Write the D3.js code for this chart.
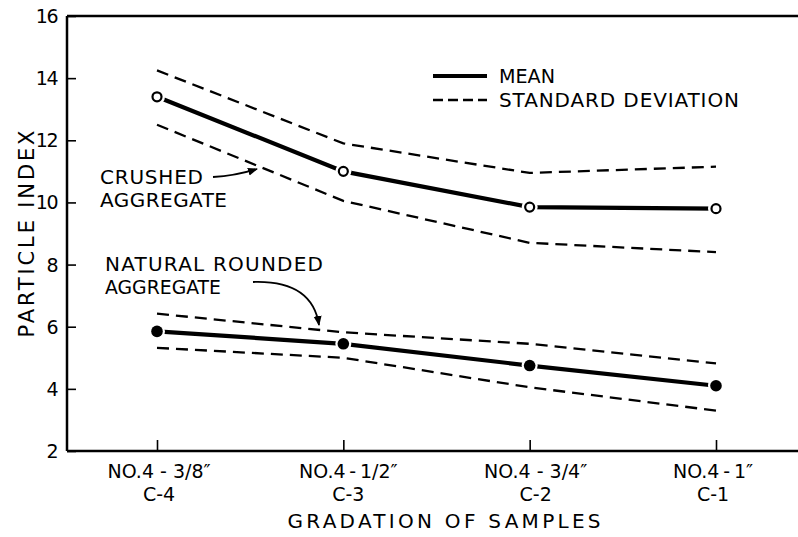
<!DOCTYPE html>
<html>
<head>
<meta charset="utf-8">
<script src="https://cdn.jsdelivr.net/npm/d3@7"></script>
<style>
  html, body { margin: 0; padding: 0; background: #fff; }
  svg { display: block; }
  text { font-family: "DejaVu Sans", "Liberation Sans", sans-serif; fill: #000; }
</style>
</head>
<body>
<svg id="chart" width="798" height="537"></svg>
<script>
// Sample gradations (x categories)
const gradations = ["NO.4 - 3/8\u2033", "NO.4\u2009-\u20091/2\u2033", "NO.4 - 3/4\u2033", "NO.4\u2009-\u20091\u2033"];
const codes = ["C-4", "C-3", "C-2", "C-1"];
const yTicks = [2, 4, 6, 8, 10, 12, 14, 16];

// Crushed aggregate: mean and ± one standard deviation
const crushedMean  = [13.4, 11.0, 9.85, 9.8];
const crushedUpper = [14.25, 11.9, 10.95, 11.15];
const crushedLower = [12.5, 10.05, 8.7, 8.4];

// Natural rounded aggregate: mean and ± one standard deviation
const naturalMean  = [5.85, 5.45, 4.75, 4.1];
const naturalUpper = [6.42, 5.82, 5.45, 4.82];
const naturalLower = [5.32, 5.0, 4.05, 3.3];

const svg = d3.select("#chart");
const plotLeft = 67, plotRight = 798, plotTop = 16, plotBottom = 451;

const x = d3.scalePoint().domain(d3.range(gradations.length)).range([157, 716]);
const y = d3.scaleLinear().domain([2, 16]).range([plotBottom, plotTop]);

// Frame: left axis, top line and bottom axis (no right border)
const frame = svg.append("g").attr("stroke", "#000").attr("fill", "none");
frame.append("line").attr("x1", plotLeft).attr("x2", plotLeft).attr("y1", plotTop).attr("y2", plotBottom).attr("stroke-width", 2.5);
frame.append("line").attr("x1", plotLeft).attr("x2", plotRight).attr("y1", plotTop).attr("y2", plotTop).attr("stroke-width", 2.5);
frame.append("line").attr("x1", plotLeft).attr("x2", plotRight).attr("y1", plotBottom).attr("y2", plotBottom).attr("stroke-width", 2.5);

// Y axis with inward ticks
const yAxis = d3.axisRight(y).tickValues(yTicks).tickSize(9).tickFormat("");
const gy = svg.append("g").attr("transform", `translate(${plotLeft},0)`).call(yAxis);
gy.select(".domain").remove();
gy.selectAll(".tick line").attr("stroke", "#000").attr("stroke-width", 1.6);
svg.append("g").selectAll("text").data(yTicks).join("text")
  .attr("x", 57).attr("y", d => y(d)).attr("dy", "0.37em")
  .attr("text-anchor", "end").attr("font-size", 19)
  .attr("letter-spacing", -1.5)
  .text(d => d);

// X axis with inward ticks
const xAxis = d3.axisTop(x).tickSize(11).tickFormat("");
const gx = svg.append("g").attr("transform", `translate(0,${plotBottom})`).call(xAxis);
gx.select(".domain").remove();
gx.selectAll(".tick line").attr("stroke", "#000").attr("stroke-width", 1.6);

const labelShift = [2, 5, 6, -3];
const xl = svg.append("g").selectAll("g").data(gradations).join("g")
  .attr("transform", (d, i) => `translate(${x(i) + labelShift[i]},0)`);
xl.append("text").attr("y", 478).attr("text-anchor", "middle").attr("font-size", 19)
  .text(d => d);
xl.append("text").attr("y", 501).attr("text-anchor", "middle").attr("font-size", 19)
  .text((d, i) => codes[i]);

svg.append("text").attr("x", 444).attr("y", 528).attr("text-anchor", "middle")
  .attr("font-size", 20).attr("textLength", 313).attr("lengthAdjust", "spacing")
  .text("GRADATION OF SAMPLES");

svg.append("text").attr("transform", "translate(34,234) rotate(-90)")
  .attr("text-anchor", "middle").attr("font-size", 21)
  .attr("textLength", 207).attr("lengthAdjust", "spacing")
  .text("PARTICLE INDEX");

// Series lines
const line = d3.line().x((d, i) => x(i)).y(d => y(d));
const dashed = [crushedUpper, crushedLower, naturalUpper, naturalLower];
svg.append("g").selectAll("path").data(dashed).join("path")
  .attr("d", line).attr("fill", "none").attr("stroke", "#000")
  .attr("stroke-width", 2.3).attr("stroke-dasharray", "12,7");
svg.append("g").selectAll("path").data([crushedMean, naturalMean]).join("path")
  .attr("d", line).attr("fill", "none").attr("stroke", "#000")
  .attr("stroke-width", 4.2);

// Markers: open circles for crushed, filled for natural, with a small white gap
const markers = svg.append("g");
markers.selectAll(".halo-c").data(crushedMean).join("circle")
  .attr("cx", (d, i) => x(i)).attr("cy", d => y(d)).attr("r", 8).attr("fill", "#fff");
markers.selectAll(".open").data(crushedMean).join("circle")
  .attr("cx", (d, i) => x(i)).attr("cy", d => y(d)).attr("r", 4.5)
  .attr("fill", "#fff").attr("stroke", "#000").attr("stroke-width", 2.2);
markers.selectAll(".halo-n").data(naturalMean).join("circle")
  .attr("cx", (d, i) => x(i)).attr("cy", d => y(d)).attr("r", 8).attr("fill", "#fff");
markers.selectAll(".solid").data(naturalMean).join("circle")
  .attr("cx", (d, i) => x(i)).attr("cy", d => y(d)).attr("r", 5.8).attr("fill", "#000");

// Legend
const legend = svg.append("g");
legend.append("line").attr("x1", 433).attr("x2", 487).attr("y1", 76).attr("y2", 76)
  .attr("stroke", "#000").attr("stroke-width", 4.2);
legend.append("line").attr("x1", 433).attr("x2", 487).attr("y1", 100).attr("y2", 100)
  .attr("stroke", "#000").attr("stroke-width", 2.3).attr("stroke-dasharray", "10,5");
legend.append("text").attr("x", 499).attr("y", 83).attr("font-size", 20)
  .attr("textLength", 56).attr("lengthAdjust", "spacingAndGlyphs").text("MEAN");
legend.append("text").attr("x", 499).attr("y", 107).attr("font-size", 20)
  .attr("textLength", 240).attr("lengthAdjust", "spacing").text("STANDARD DEVIATION");

// Annotations
const defs = svg.append("defs");
defs.append("marker").attr("id", "arrow").attr("viewBox", "0 0 10 10")
  .attr("refX", 9).attr("refY", 5).attr("markerWidth", 10).attr("markerHeight", 10)
  .attr("markerUnits", "userSpaceOnUse").attr("orient", "auto")
  .append("path").attr("d", "M0,1 L10,5 L0,9 Z").attr("fill", "#000");

const ann = svg.append("g").attr("font-size", 20);
ann.append("text").attr("x", 100).attr("y", 184).attr("textLength", 103).attr("lengthAdjust", "spacing").text("CRUSHED");
ann.append("text").attr("x", 100).attr("y", 207).attr("textLength", 127).attr("lengthAdjust", "spacing").text("AGGREGATE");
ann.append("path").attr("d", "M213,177 Q235,176 257,169")
  .attr("fill", "none").attr("stroke", "#000").attr("stroke-width", 1.8).attr("marker-end", "url(#arrow)");

ann.append("text").attr("x", 105).attr("y", 271).attr("textLength", 218).attr("lengthAdjust", "spacing").text("NATURAL ROUNDED");
ann.append("text").attr("x", 105).attr("y", 294).attr("textLength", 116).attr("lengthAdjust", "spacingAndGlyphs").text("AGGREGATE");
ann.append("path").attr("d", "M253,282 Q312,280 319,325")
  .attr("fill", "none").attr("stroke", "#000").attr("stroke-width", 1.8).attr("marker-end", "url(#arrow)");
</script>
</body>
</html>
